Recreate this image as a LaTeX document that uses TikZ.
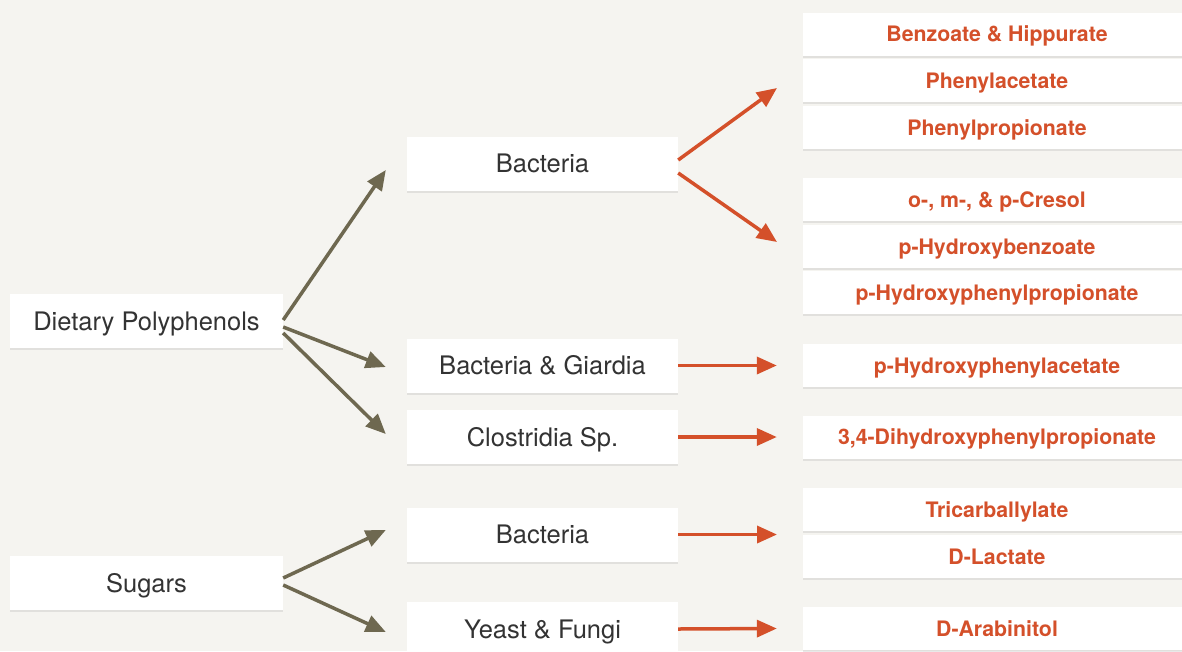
\documentclass[tikz,border=0pt]{standalone}
\usepackage{fontspec}
\setmainfont{TeX Gyre Heros}
\usepackage{xcolor}
\usetikzlibrary{arrows.meta}
\usetikzlibrary{shadows, math}
\definecolor{qbg}{RGB}{245,244,240}
\definecolor{qolive}{RGB}{110,104,80}
\definecolor{qred}{RGB}{212,80,42}
\definecolor{qtext}{RGB}{51,51,51}

\begin{document}
\begin{tikzpicture}[x=1pt,y=-1pt,
 box/.style={fill=white, inner sep=0pt,
   drop shadow={shadow xshift=0pt,shadow yshift=-2pt,opacity=0.25,fill=black!35}},
 srcbox/.style={box, minimum width=273pt, minimum height=54pt, text=qtext,
   font=\fontsize{25.5}{30}\selectfont, text height=18.4pt, text depth=0pt},
 midbox/.style={srcbox, minimum width=271pt},
 prodbox/.style={box, minimum width=388pt, minimum height=43pt, text=qred,
   font=\fontsize{21.3}{25}\selectfont\bfseries, text height=15.3pt, text depth=0pt},
 olivearrow/.style={draw=qolive, line width=3.5pt, -{Triangle[length=20pt,width=17pt]}},
 redarrow/.style={olivearrow, draw=qred, fill=qred}]
\tikzmath{
\W=1182;
\H=651;
\xs=146.5;
\xm=542.5;
\xp=997;
}
\clip (0,0) rectangle (\W,\H);
\fill[qbg] (0,0) rectangle (\W,\H);

%sources
\node[srcbox] (poly) at (\xs,321) {Dietary Polyphenols};
\node[srcbox] (sug) at (\xs,583) {Sugars};

%organisms
\node[midbox] (bac) at (\xm,163.5) {Bacteria};
\node[midbox] (giar) at (\xm,365.5) {Bacteria \& Giardia};
\node[midbox] (clos) at (\xm,437) {Clostridia Sp.};
\node[midbox] (bac2) at (\xm,534.5) {Bacteria};
\node[midbox] (yeast) at (\xm,629) {Yeast \& Fungi};

%products
\foreach \y/\t [count=\i] in {34/Benzoate \& Hippurate, 80.5/Phenylacetate,
  127.5/Phenylpropionate, 199.5/{o-, m-, \& p-Cresol}, 246.5/p-Hydroxybenzoate,
  292.5/p-Hydroxyphenylpropionate, 365.5/p-Hydroxyphenylacetate,
  437/{3,4-Dihydroxyphenylpropionate}, 509.5/Tricarballylate,
  556.5/D-Lactate, 628.5/D-Arabinitol}{
 \node[prodbox] (p\i) at (\xp,\y) {\t};
}

%arrow ends
\coordinate (tipA) at (777,88);
\coordinate (tipB) at (777,242);
\coordinate (tipC) at (777,534.5);

%olive arrows
\draw[olivearrow] ([yshift=1pt]poly.east) -- ([xshift=-21pt,yshift=-6.5pt]bac.west);
\draw[olivearrow] ([yshift=-6pt]poly.east) -- ([xshift=-21pt,yshift=-1.5pt]giar.west);
\draw[olivearrow] ([yshift=-12pt]poly.east) -- ([xshift=-21pt,yshift=3pt]clos.west);
\draw[olivearrow] ([yshift=5pt]sug.east) -- ([xshift=-21pt,yshift=4.5pt]bac2.west);
\draw[olivearrow] ([yshift=-2pt]sug.east) -- ([xshift=-21pt,yshift=-3pt]yeast.west);

%red arrows
\draw[redarrow] ([yshift=3.5pt]bac.east) -- (tipA);
\draw[redarrow] ([yshift=-9.5pt]bac.east) -- (tipB);
\draw[redarrow] (giar.east) -- ([xshift=-26pt]p7.west);
\draw[redarrow] (clos.east) -- ([xshift=-26pt]p8.west);
\draw[redarrow] (bac2.east) -- (tipC);
\draw[redarrow] (yeast.east) -- ([xshift=-26pt]p11.west);
\end{tikzpicture}
\end{document}
